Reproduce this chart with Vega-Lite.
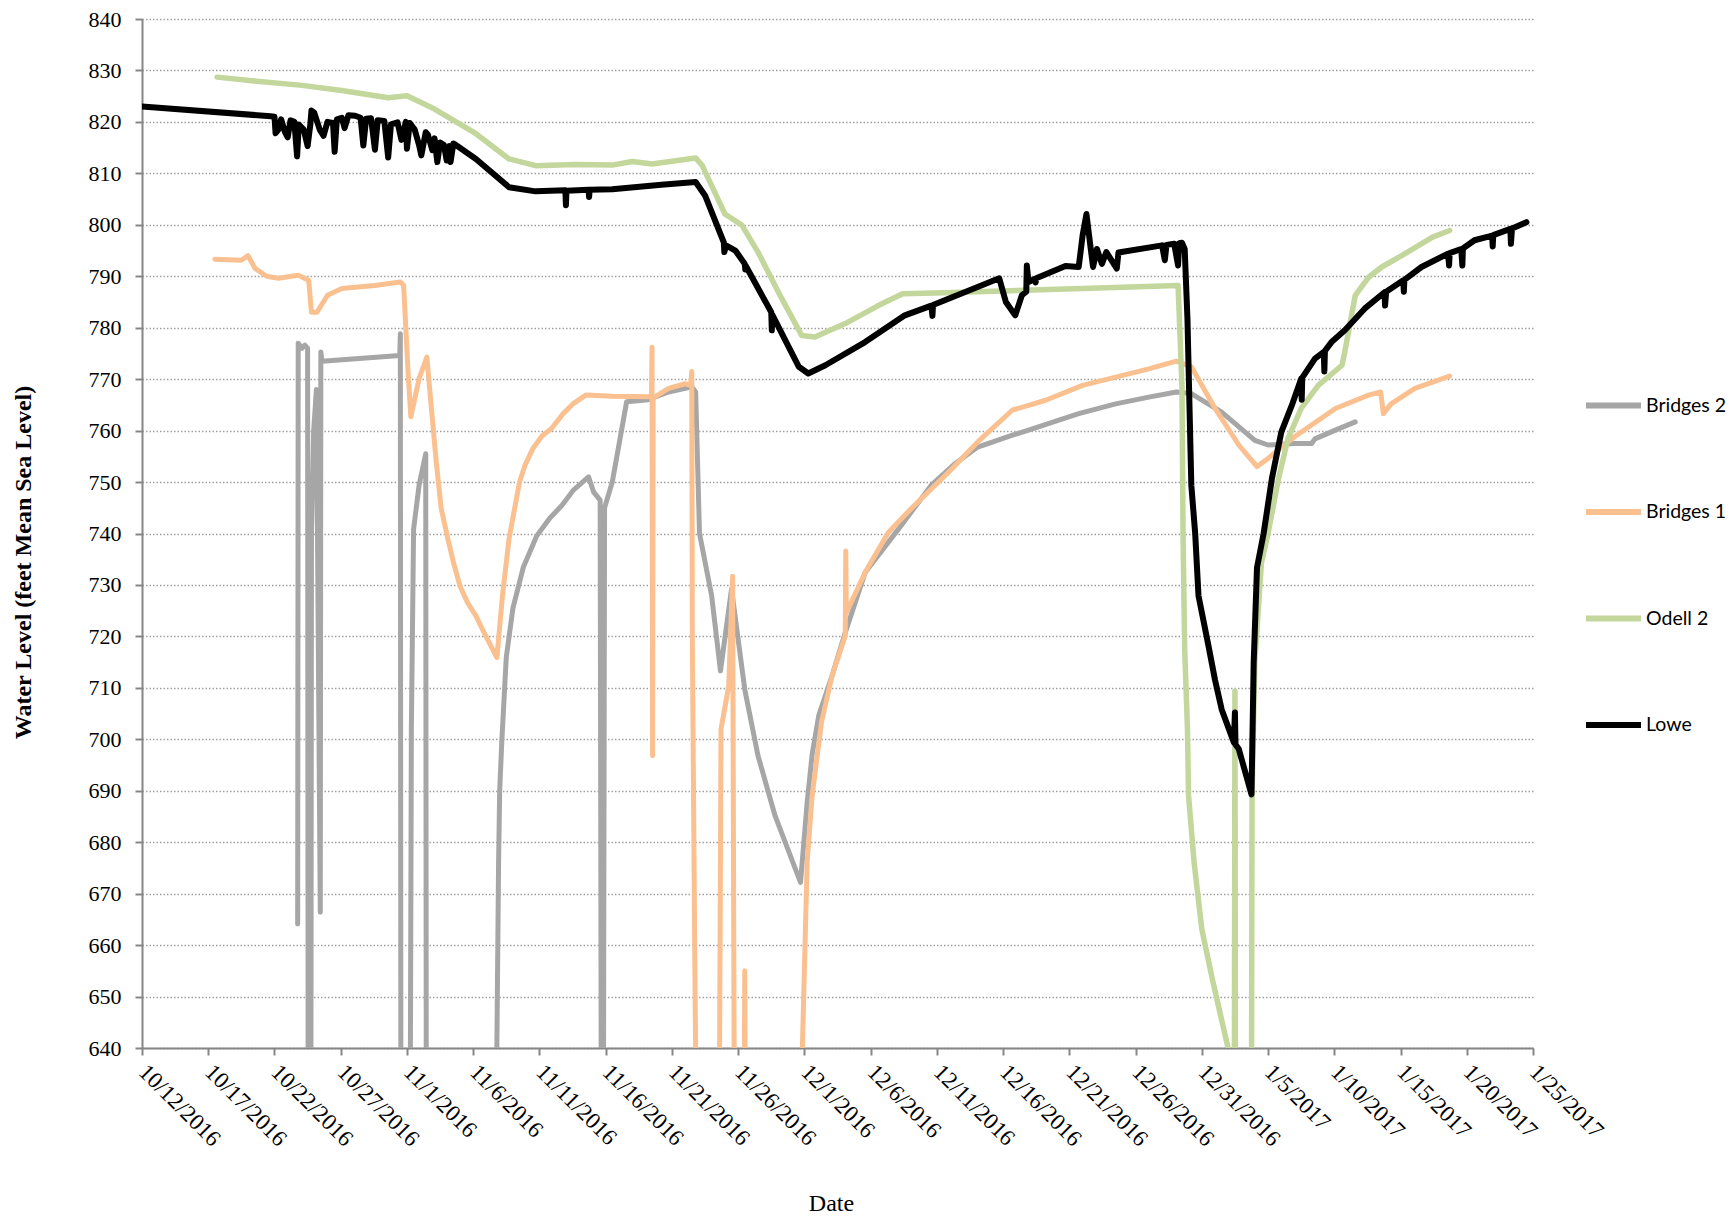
{
  "$schema": "https://vega.github.io/schema/vega-lite/v6.json",
  "autosize": {"type": "none"},
  "padding": {"left": 142, "top": 19, "right": 198, "bottom": 170},
  "width": 1391,
  "height": 1029,
  "background": "white",
  "config": {"view": {"stroke": null}},
  "data": {"values": [
    {"well":"Bridges 2","time":"2016-10-23T18:00","level":664.1},
    {"well":"Bridges 2","time":"2016-10-23T19:00","level":777.0},
    {"well":"Bridges 2","time":"2016-10-24T02:00","level":776.0},
    {"well":"Bridges 2","time":"2016-10-24T07:00","level":776.6},
    {"well":"Bridges 2","time":"2016-10-24T12:00","level":776.0},
    {"well":"Bridges 2","time":"2016-10-24T13:00","level":630},
    {"well":"Bridges 2","time":"2016-10-24T18:00","level":630},
    {"well":"Bridges 2","time":"2016-10-24T19:00","level":740},
    {"well":"Bridges 2","time":"2016-10-24T23:00","level":760},
    {"well":"Bridges 2","time":"2016-10-25T04:00","level":768},
    {"well":"Bridges 2","time":"2016-10-25T11:00","level":666.4},
    {"well":"Bridges 2","time":"2016-10-25T12:00","level":775.3},
    {"well":"Bridges 2","time":"2016-10-25T14:00","level":773.5},
    {"well":"Bridges 2","time":"2016-10-31T11:00","level":774.6},
    {"well":"Bridges 2","time":"2016-10-31T12:00","level":778.8},
    {"well":"Bridges 2","time":"2016-10-31T13:00","level":630},
    {"well":"Bridges 2","time":"2016-11-01T06:00","level":630},
    {"well":"Bridges 2","time":"2016-11-01T08:00","level":702},
    {"well":"Bridges 2","time":"2016-11-01T12:00","level":740.8},
    {"well":"Bridges 2","time":"2016-11-01T22:00","level":749.4},
    {"well":"Bridges 2","time":"2016-11-02T10:00","level":755.5},
    {"well":"Bridges 2","time":"2016-11-02T11:00","level":630},
    {"well":"Bridges 2","time":"2016-11-07T18:00","level":630},
    {"well":"Bridges 2","time":"2016-11-07T22:00","level":676},
    {"well":"Bridges 2","time":"2016-11-08T00:00","level":690},
    {"well":"Bridges 2","time":"2016-11-08T04:00","level":700},
    {"well":"Bridges 2","time":"2016-11-08T12:00","level":716},
    {"well":"Bridges 2","time":"2016-11-09T00:00","level":725.5},
    {"well":"Bridges 2","time":"2016-11-09T19:00","level":733.5},
    {"well":"Bridges 2","time":"2016-11-10T19:00","level":739.5},
    {"well":"Bridges 2","time":"2016-11-11T19:00","level":743.0},
    {"well":"Bridges 2","time":"2016-11-12T17:00","level":745.5},
    {"well":"Bridges 2","time":"2016-11-13T14:00","level":748.5},
    {"well":"Bridges 2","time":"2016-11-14T17:00","level":751.0},
    {"well":"Bridges 2","time":"2016-11-15T02:00","level":748.1},
    {"well":"Bridges 2","time":"2016-11-15T14:00","level":746.5},
    {"well":"Bridges 2","time":"2016-11-15T16:00","level":630},
    {"well":"Bridges 2","time":"2016-11-15T20:00","level":630},
    {"well":"Bridges 2","time":"2016-11-15T22:00","level":745},
    {"well":"Bridges 2","time":"2016-11-16T12:00","level":750},
    {"well":"Bridges 2","time":"2016-11-17T14:00","level":765.6},
    {"well":"Bridges 2","time":"2016-11-19T05:00","level":766.0},
    {"well":"Bridges 2","time":"2016-11-20T18:00","level":767.5},
    {"well":"Bridges 2","time":"2016-11-22T12:00","level":768.5},
    {"well":"Bridges 2","time":"2016-11-22T19:00","level":767.5},
    {"well":"Bridges 2","time":"2016-11-23T02:00","level":740.0},
    {"well":"Bridges 2","time":"2016-11-24T00:00","level":727.9},
    {"well":"Bridges 2","time":"2016-11-24T16:00","level":713.3},
    {"well":"Bridges 2","time":"2016-11-25T12:00","level":729.2},
    {"well":"Bridges 2","time":"2016-11-26T12:00","level":709.7},
    {"well":"Bridges 2","time":"2016-11-27T12:00","level":696.8},
    {"well":"Bridges 2","time":"2016-11-28T19:00","level":685.1},
    {"well":"Bridges 2","time":"2016-11-30T17:00","level":672.2},
    {"well":"Bridges 2","time":"2016-12-01T05:00","level":687.7},
    {"well":"Bridges 2","time":"2016-12-01T14:00","level":697.0},
    {"well":"Bridges 2","time":"2016-12-02T02:00","level":704.6},
    {"well":"Bridges 2","time":"2016-12-03T02:00","level":712.3},
    {"well":"Bridges 2","time":"2016-12-04T02:00","level":720.7},
    {"well":"Bridges 2","time":"2016-12-05T14:00","level":732.4},
    {"well":"Bridges 2","time":"2016-12-08T02:00","level":740.8},
    {"well":"Bridges 2","time":"2016-12-10T14:00","level":749.4},
    {"well":"Bridges 2","time":"2016-12-12T08:00","level":753.5},
    {"well":"Bridges 2","time":"2016-12-14T02:00","level":756.8},
    {"well":"Bridges 2","time":"2016-12-16T17:00","level":759.1},
    {"well":"Bridges 2","time":"2016-12-17T22:00","level":760.1},
    {"well":"Bridges 2","time":"2016-12-21T17:00","level":763.3},
    {"well":"Bridges 2","time":"2016-12-24T12:00","level":765.2},
    {"well":"Bridges 2","time":"2016-12-27T00:00","level":766.5},
    {"well":"Bridges 2","time":"2016-12-29T02:00","level":767.5},
    {"well":"Bridges 2","time":"2016-12-30T05:00","level":767.2},
    {"well":"Bridges 2","time":"2017-01-01T12:00","level":763.6},
    {"well":"Bridges 2","time":"2017-01-04T00:00","level":758.1},
    {"well":"Bridges 2","time":"2017-01-05T00:00","level":757.2},
    {"well":"Bridges 2","time":"2017-01-07T00:00","level":757.5},
    {"well":"Bridges 2","time":"2017-01-08T07:00","level":757.5},
    {"well":"Bridges 2","time":"2017-01-08T13:00","level":758.4},
    {"well":"Bridges 2","time":"2017-01-10T02:00","level":760.1},
    {"well":"Bridges 2","time":"2017-01-11T14:00","level":761.7},

    {"well":"Bridges 1","time":"2016-10-17T12:00","level":793.3},
    {"well":"Bridges 1","time":"2016-10-19T12:00","level":793.1},
    {"well":"Bridges 1","time":"2016-10-20T00:00","level":794.0},
    {"well":"Bridges 1","time":"2016-10-20T13:00","level":791.5},
    {"well":"Bridges 1","time":"2016-10-21T10:00","level":790.0},
    {"well":"Bridges 1","time":"2016-10-22T07:00","level":789.6},
    {"well":"Bridges 1","time":"2016-10-23T19:00","level":790.2},
    {"well":"Bridges 1","time":"2016-10-24T14:00","level":789.2},
    {"well":"Bridges 1","time":"2016-10-24T19:00","level":783.0},
    {"well":"Bridges 1","time":"2016-10-25T05:00","level":783.0},
    {"well":"Bridges 1","time":"2016-10-26T00:00","level":786.3},
    {"well":"Bridges 1","time":"2016-10-27T02:00","level":787.6},
    {"well":"Bridges 1","time":"2016-10-29T14:00","level":788.2},
    {"well":"Bridges 1","time":"2016-10-31T12:00","level":788.9},
    {"well":"Bridges 1","time":"2016-10-31T18:00","level":788.2},
    {"well":"Bridges 1","time":"2016-11-01T02:00","level":771.4},
    {"well":"Bridges 1","time":"2016-11-01T07:00","level":762.7},
    {"well":"Bridges 1","time":"2016-11-01T22:00","level":770.1},
    {"well":"Bridges 1","time":"2016-11-02T12:00","level":774.3},
    {"well":"Bridges 1","time":"2016-11-02T22:00","level":762.3},
    {"well":"Bridges 1","time":"2016-11-03T05:00","level":754.0},
    {"well":"Bridges 1","time":"2016-11-03T14:00","level":744.9},
    {"well":"Bridges 1","time":"2016-11-04T02:00","level":739.0},
    {"well":"Bridges 1","time":"2016-11-04T12:00","level":734.5},
    {"well":"Bridges 1","time":"2016-11-05T00:00","level":729.8},
    {"well":"Bridges 1","time":"2016-11-05T14:00","level":726.5},
    {"well":"Bridges 1","time":"2016-11-06T05:00","level":724.0},
    {"well":"Bridges 1","time":"2016-11-06T17:00","level":721.3},
    {"well":"Bridges 1","time":"2016-11-07T05:00","level":718.8},
    {"well":"Bridges 1","time":"2016-11-07T19:00","level":715.9},
    {"well":"Bridges 1","time":"2016-11-08T05:00","level":727.9},
    {"well":"Bridges 1","time":"2016-11-08T17:00","level":739.0},
    {"well":"Bridges 1","time":"2016-11-09T05:00","level":746.0},
    {"well":"Bridges 1","time":"2016-11-09T12:00","level":750.0},
    {"well":"Bridges 1","time":"2016-11-09T22:00","level":753.3},
    {"well":"Bridges 1","time":"2016-11-10T12:00","level":756.5},
    {"well":"Bridges 1","time":"2016-11-11T05:00","level":759.0},
    {"well":"Bridges 1","time":"2016-11-11T22:00","level":760.4},
    {"well":"Bridges 1","time":"2016-11-12T19:00","level":763.3},
    {"well":"Bridges 1","time":"2016-11-13T14:00","level":765.3},
    {"well":"Bridges 1","time":"2016-11-14T12:00","level":766.9},
    {"well":"Bridges 1","time":"2016-11-16T12:00","level":766.7},
    {"well":"Bridges 1","time":"2016-11-19T11:00","level":766.6},
    {"well":"Bridges 1","time":"2016-11-19T12:00","level":776.2},
    {"well":"Bridges 1","time":"2016-11-19T13:00","level":696.8},
    {"well":"Bridges 1","time":"2016-11-19T14:00","level":766.5},
    {"well":"Bridges 1","time":"2016-11-19T18:00","level":766.6},
    {"well":"Bridges 1","time":"2016-11-20T18:00","level":768.2},
    {"well":"Bridges 1","time":"2016-11-22T00:00","level":769.1},
    {"well":"Bridges 1","time":"2016-11-22T10:00","level":768.8},
    {"well":"Bridges 1","time":"2016-11-22T12:00","level":771.5},
    {"well":"Bridges 1","time":"2016-11-22T13:00","level":720},
    {"well":"Bridges 1","time":"2016-11-22T18:00","level":650},
    {"well":"Bridges 1","time":"2016-11-22T20:00","level":630},
    {"well":"Bridges 1","time":"2016-11-24T14:00","level":630},
    {"well":"Bridges 1","time":"2016-11-24T17:00","level":702},
    {"well":"Bridges 1","time":"2016-11-25T07:00","level":710.4},
    {"well":"Bridges 1","time":"2016-11-25T14:00","level":731.7},
    {"well":"Bridges 1","time":"2016-11-25T17:00","level":630},
    {"well":"Bridges 1","time":"2016-11-26T11:00","level":630},
    {"well":"Bridges 1","time":"2016-11-26T12:00","level":655.0},
    {"well":"Bridges 1","time":"2016-11-26T13:00","level":630},
    {"well":"Bridges 1","time":"2016-11-30T18:00","level":630},
    {"well":"Bridges 1","time":"2016-12-01T05:00","level":676.1},
    {"well":"Bridges 1","time":"2016-12-01T14:00","level":689.0},
    {"well":"Bridges 1","time":"2016-12-02T07:00","level":703.3},
    {"well":"Bridges 1","time":"2016-12-03T02:00","level":712.3},
    {"well":"Bridges 1","time":"2016-12-04T02:00","level":720.1},
    {"well":"Bridges 1","time":"2016-12-04T03:00","level":736.6},
    {"well":"Bridges 1","time":"2016-12-04T04:00","level":724.6},
    {"well":"Bridges 1","time":"2016-12-05T14:00","level":732.4},
    {"well":"Bridges 1","time":"2016-12-07T08:00","level":740.2},
    {"well":"Bridges 1","time":"2016-12-09T02:00","level":744.9},
    {"well":"Bridges 1","time":"2016-12-11T22:00","level":752.0},
    {"well":"Bridges 1","time":"2016-12-14T02:00","level":757.8},
    {"well":"Bridges 1","time":"2016-12-16T17:00","level":764.0},
    {"well":"Bridges 1","time":"2016-12-17T22:00","level":764.9},
    {"well":"Bridges 1","time":"2016-12-19T05:00","level":765.9},
    {"well":"Bridges 1","time":"2016-12-22T00:00","level":768.8},
    {"well":"Bridges 1","time":"2016-12-24T12:00","level":770.4},
    {"well":"Bridges 1","time":"2016-12-27T00:00","level":772.0},
    {"well":"Bridges 1","time":"2016-12-29T02:00","level":773.5},
    {"well":"Bridges 1","time":"2016-12-30T05:00","level":772.4},
    {"well":"Bridges 1","time":"2017-01-01T00:00","level":764.3},
    {"well":"Bridges 1","time":"2017-01-02T19:00","level":757.2},
    {"well":"Bridges 1","time":"2017-01-04T04:00","level":753.0},
    {"well":"Bridges 1","time":"2017-01-05T00:00","level":754.6},
    {"well":"Bridges 1","time":"2017-01-07T00:00","level":758.8},
    {"well":"Bridges 1","time":"2017-01-10T02:00","level":764.3},
    {"well":"Bridges 1","time":"2017-01-12T14:00","level":766.9},
    {"well":"Bridges 1","time":"2017-01-13T12:00","level":767.5},
    {"well":"Bridges 1","time":"2017-01-13T17:00","level":763.3},
    {"well":"Bridges 1","time":"2017-01-14T07:00","level":765.2},
    {"well":"Bridges 1","time":"2017-01-16T02:00","level":768.2},
    {"well":"Bridges 1","time":"2017-01-18T17:00","level":770.6},

    {"well":"Odell 2","time":"2016-10-17T16:00","level":828.7},
    {"well":"Odell 2","time":"2016-10-20T07:00","level":828.0},
    {"well":"Odell 2","time":"2016-10-24T02:00","level":827.1},
    {"well":"Odell 2","time":"2016-10-27T02:00","level":826.1},
    {"well":"Odell 2","time":"2016-10-30T14:00","level":824.7},
    {"well":"Odell 2","time":"2016-11-01T00:00","level":825.1},
    {"well":"Odell 2","time":"2016-11-03T02:00","level":822.5},
    {"well":"Odell 2","time":"2016-11-06T05:00","level":817.7},
    {"well":"Odell 2","time":"2016-11-08T17:00","level":812.8},
    {"well":"Odell 2","time":"2016-11-10T17:00","level":811.5},
    {"well":"Odell 2","time":"2016-11-13T17:00","level":811.7},
    {"well":"Odell 2","time":"2016-11-16T12:00","level":811.6},
    {"well":"Odell 2","time":"2016-11-18T00:00","level":812.3},
    {"well":"Odell 2","time":"2016-11-19T12:00","level":811.8},
    {"well":"Odell 2","time":"2016-11-22T19:00","level":813.0},
    {"well":"Odell 2","time":"2016-11-23T07:00","level":811.5},
    {"well":"Odell 2","time":"2016-11-25T00:00","level":802.1},
    {"well":"Odell 2","time":"2016-11-26T07:00","level":799.9},
    {"well":"Odell 2","time":"2016-11-27T12:00","level":794.7},
    {"well":"Odell 2","time":"2016-11-29T01:00","level":786.9},
    {"well":"Odell 2","time":"2016-11-30T19:00","level":778.5},
    {"well":"Odell 2","time":"2016-12-01T19:00","level":778.2},
    {"well":"Odell 2","time":"2016-12-04T02:00","level":780.8},
    {"well":"Odell 2","time":"2016-12-06T14:00","level":784.3},
    {"well":"Odell 2","time":"2016-12-08T10:00","level":786.6},
    {"well":"Odell 2","time":"2016-12-11T14:00","level":786.8},
    {"well":"Odell 2","time":"2016-12-22T00:00","level":787.6},
    {"well":"Odell 2","time":"2016-12-29T05:00","level":788.2},
    {"well":"Odell 2","time":"2016-12-29T12:00","level":768.8},
    {"well":"Odell 2","time":"2016-12-29T14:00","level":740.0},
    {"well":"Odell 2","time":"2016-12-29T17:00","level":717.5},
    {"well":"Odell 2","time":"2016-12-29T22:00","level":702.0},
    {"well":"Odell 2","time":"2016-12-30T00:00","level":689.0},
    {"well":"Odell 2","time":"2016-12-30T10:00","level":676.1},
    {"well":"Odell 2","time":"2016-12-31T00:00","level":663.1},
    {"well":"Odell 2","time":"2016-12-31T19:00","level":653.4},
    {"well":"Odell 2","time":"2017-01-02T00:00","level":639.8},
    {"well":"Odell 2","time":"2017-01-02T07:00","level":630},
    {"well":"Odell 2","time":"2017-01-02T11:00","level":630},
    {"well":"Odell 2","time":"2017-01-02T12:00","level":709.4},
    {"well":"Odell 2","time":"2017-01-02T13:00","level":630},
    {"well":"Odell 2","time":"2017-01-03T18:00","level":630},
    {"well":"Odell 2","time":"2017-01-03T19:00","level":689.0},
    {"well":"Odell 2","time":"2017-01-04T00:00","level":715.0},
    {"well":"Odell 2","time":"2017-01-04T12:00","level":734.3},
    {"well":"Odell 2","time":"2017-01-05T00:00","level":740.0},
    {"well":"Odell 2","time":"2017-01-05T19:00","level":750.7},
    {"well":"Odell 2","time":"2017-01-06T12:00","level":758.4},
    {"well":"Odell 2","time":"2017-01-07T12:00","level":764.3},
    {"well":"Odell 2","time":"2017-01-08T19:00","level":768.8},
    {"well":"Odell 2","time":"2017-01-10T14:00","level":772.7},
    {"well":"Odell 2","time":"2017-01-10T19:00","level":775.3},
    {"well":"Odell 2","time":"2017-01-11T14:00","level":786.3},
    {"well":"Odell 2","time":"2017-01-12T14:00","level":789.8},
    {"well":"Odell 2","time":"2017-01-13T14:00","level":791.8},
    {"well":"Odell 2","time":"2017-01-15T02:00","level":794.0},
    {"well":"Odell 2","time":"2017-01-17T10:00","level":797.6},
    {"well":"Odell 2","time":"2017-01-18T17:00","level":798.9},

    {"well":"Lowe","time":"2016-10-12T00:00","level":823.0},
    {"well":"Lowe","time":"2016-10-21T17:00","level":821.1},
    {"well":"Lowe","time":"2016-10-22T00:00","level":821.0},
    {"well":"Lowe","time":"2016-10-22T02:00","level":817.8},
    {"well":"Lowe","time":"2016-10-22T07:00","level":818.5},
    {"well":"Lowe","time":"2016-10-22T12:00","level":820.5},
    {"well":"Lowe","time":"2016-10-22T19:00","level":818.0},
    {"well":"Lowe","time":"2016-10-23T00:00","level":817.0},
    {"well":"Lowe","time":"2016-10-23T05:00","level":820.3},
    {"well":"Lowe","time":"2016-10-23T12:00","level":820.0},
    {"well":"Lowe","time":"2016-10-23T17:00","level":813.3},
    {"well":"Lowe","time":"2016-10-23T20:00","level":819.5},
    {"well":"Lowe","time":"2016-10-24T05:00","level":818.5},
    {"well":"Lowe","time":"2016-10-24T12:00","level":815.3},
    {"well":"Lowe","time":"2016-10-24T17:00","level":819.5},
    {"well":"Lowe","time":"2016-10-24T19:00","level":822.2},
    {"well":"Lowe","time":"2016-10-25T00:00","level":821.8},
    {"well":"Lowe","time":"2016-10-25T10:00","level":818.5},
    {"well":"Lowe","time":"2016-10-25T17:00","level":817.3},
    {"well":"Lowe","time":"2016-10-26T00:00","level":820.0},
    {"well":"Lowe","time":"2016-10-26T10:00","level":819.8},
    {"well":"Lowe","time":"2016-10-26T13:00","level":814.2},
    {"well":"Lowe","time":"2016-10-26T17:00","level":820.5},
    {"well":"Lowe","time":"2016-10-27T02:00","level":820.8},
    {"well":"Lowe","time":"2016-10-27T07:00","level":818.8},
    {"well":"Lowe","time":"2016-10-27T14:00","level":821.3},
    {"well":"Lowe","time":"2016-10-28T02:00","level":821.2},
    {"well":"Lowe","time":"2016-10-28T12:00","level":820.8},
    {"well":"Lowe","time":"2016-10-28T17:00","level":815.4},
    {"well":"Lowe","time":"2016-10-28T22:00","level":820.6},
    {"well":"Lowe","time":"2016-10-29T07:00","level":820.7},
    {"well":"Lowe","time":"2016-10-29T14:00","level":814.6},
    {"well":"Lowe","time":"2016-10-29T19:00","level":820.3},
    {"well":"Lowe","time":"2016-10-30T07:00","level":820.2},
    {"well":"Lowe","time":"2016-10-30T14:00","level":813.1},
    {"well":"Lowe","time":"2016-10-30T19:00","level":819.5},
    {"well":"Lowe","time":"2016-10-31T07:00","level":819.9},
    {"well":"Lowe","time":"2016-10-31T14:00","level":816.5},
    {"well":"Lowe","time":"2016-10-31T22:00","level":820.0},
    {"well":"Lowe","time":"2016-11-01T00:00","level":814.8},
    {"well":"Lowe","time":"2016-11-01T05:00","level":819.8},
    {"well":"Lowe","time":"2016-11-01T14:00","level":818.5},
    {"well":"Lowe","time":"2016-11-01T22:00","level":815.5},
    {"well":"Lowe","time":"2016-11-02T02:00","level":813.5},
    {"well":"Lowe","time":"2016-11-02T10:00","level":818.0},
    {"well":"Lowe","time":"2016-11-02T14:00","level":817.5},
    {"well":"Lowe","time":"2016-11-02T22:00","level":814.5},
    {"well":"Lowe","time":"2016-11-03T02:00","level":816.8},
    {"well":"Lowe","time":"2016-11-03T07:00","level":812.2},
    {"well":"Lowe","time":"2016-11-03T12:00","level":816.0},
    {"well":"Lowe","time":"2016-11-03T19:00","level":815.5},
    {"well":"Lowe","time":"2016-11-04T00:00","level":812.5},
    {"well":"Lowe","time":"2016-11-04T05:00","level":815.3},
    {"well":"Lowe","time":"2016-11-04T07:00","level":812.2},
    {"well":"Lowe","time":"2016-11-04T12:00","level":815.8},
    {"well":"Lowe","time":"2016-11-04T14:00","level":815.7},
    {"well":"Lowe","time":"2016-11-06T05:00","level":812.8},
    {"well":"Lowe","time":"2016-11-08T17:00","level":807.3},
    {"well":"Lowe","time":"2016-11-10T17:00","level":806.5},
    {"well":"Lowe","time":"2016-11-12T23:00","level":806.7},
    {"well":"Lowe","time":"2016-11-13T00:00","level":803.8},
    {"well":"Lowe","time":"2016-11-13T01:00","level":806.6},
    {"well":"Lowe","time":"2016-11-14T17:00","level":806.8},
    {"well":"Lowe","time":"2016-11-14T18:00","level":805.4},
    {"well":"Lowe","time":"2016-11-14T19:00","level":806.8},
    {"well":"Lowe","time":"2016-11-16T12:00","level":806.9},
    {"well":"Lowe","time":"2016-11-20T05:00","level":807.8},
    {"well":"Lowe","time":"2016-11-22T19:00","level":808.3},
    {"well":"Lowe","time":"2016-11-23T12:00","level":805.7},
    {"well":"Lowe","time":"2016-11-24T22:00","level":796.6},
    {"well":"Lowe","time":"2016-11-24T23:00","level":794.7},
    {"well":"Lowe","time":"2016-11-25T02:00","level":796.0},
    {"well":"Lowe","time":"2016-11-25T19:00","level":795.0},
    {"well":"Lowe","time":"2016-11-26T12:00","level":792.4},
    {"well":"Lowe","time":"2016-11-26T13:00","level":791.3},
    {"well":"Lowe","time":"2016-11-26T14:00","level":792.0},
    {"well":"Lowe","time":"2016-11-28T12:00","level":783.0},
    {"well":"Lowe","time":"2016-11-28T13:00","level":779.5},
    {"well":"Lowe","time":"2016-11-28T14:00","level":782.5},
    {"well":"Lowe","time":"2016-11-30T14:00","level":772.4},
    {"well":"Lowe","time":"2016-12-01T07:00","level":771.1},
    {"well":"Lowe","time":"2016-12-02T14:00","level":772.7},
    {"well":"Lowe","time":"2016-12-05T14:00","level":777.2},
    {"well":"Lowe","time":"2016-12-08T14:00","level":782.4},
    {"well":"Lowe","time":"2016-12-10T14:00","level":784.3},
    {"well":"Lowe","time":"2016-12-10T16:00","level":782.3},
    {"well":"Lowe","time":"2016-12-10T17:00","level":784.4},
    {"well":"Lowe","time":"2016-12-15T17:00","level":789.6},
    {"well":"Lowe","time":"2016-12-16T05:00","level":785.0},
    {"well":"Lowe","time":"2016-12-16T22:00","level":782.4},
    {"well":"Lowe","time":"2016-12-17T10:00","level":786.3},
    {"well":"Lowe","time":"2016-12-17T18:00","level":787.0},
    {"well":"Lowe","time":"2016-12-17T19:00","level":792.1},
    {"well":"Lowe","time":"2016-12-17T22:00","level":788.9},
    {"well":"Lowe","time":"2016-12-18T10:00","level":789.5},
    {"well":"Lowe","time":"2016-12-18T11:00","level":788.8},
    {"well":"Lowe","time":"2016-12-18T12:00","level":789.6},
    {"well":"Lowe","time":"2016-12-20T17:00","level":792.0},
    {"well":"Lowe","time":"2016-12-21T17:00","level":791.8},
    {"well":"Lowe","time":"2016-12-22T00:00","level":797.9},
    {"well":"Lowe","time":"2016-12-22T07:00","level":802.1},
    {"well":"Lowe","time":"2016-12-22T14:00","level":796.0},
    {"well":"Lowe","time":"2016-12-22T19:00","level":791.8},
    {"well":"Lowe","time":"2016-12-23T02:00","level":795.3},
    {"well":"Lowe","time":"2016-12-23T11:00","level":792.4},
    {"well":"Lowe","time":"2016-12-23T19:00","level":794.7},
    {"well":"Lowe","time":"2016-12-24T14:00","level":791.5},
    {"well":"Lowe","time":"2016-12-24T17:00","level":794.6},
    {"well":"Lowe","time":"2016-12-28T00:00","level":796.0},
    {"well":"Lowe","time":"2016-12-28T05:00","level":793.1},
    {"well":"Lowe","time":"2016-12-28T08:00","level":796.1},
    {"well":"Lowe","time":"2016-12-28T22:00","level":796.3},
    {"well":"Lowe","time":"2016-12-29T05:00","level":792.1},
    {"well":"Lowe","time":"2016-12-29T07:00","level":796.4},
    {"well":"Lowe","time":"2016-12-29T12:00","level":796.5},
    {"well":"Lowe","time":"2016-12-29T17:00","level":795.3},
    {"well":"Lowe","time":"2016-12-29T22:00","level":781.7},
    {"well":"Lowe","time":"2016-12-30T05:00","level":749.4},
    {"well":"Lowe","time":"2016-12-30T12:00","level":740.0},
    {"well":"Lowe","time":"2016-12-30T18:00","level":727.9},
    {"well":"Lowe","time":"2016-12-31T12:00","level":718.2},
    {"well":"Lowe","time":"2017-01-01T00:00","level":711.5},
    {"well":"Lowe","time":"2017-01-01T12:00","level":705.8},
    {"well":"Lowe","time":"2017-01-02T10:00","level":699.4},
    {"well":"Lowe","time":"2017-01-02T12:00","level":705.2},
    {"well":"Lowe","time":"2017-01-02T13:00","level":699.0},
    {"well":"Lowe","time":"2017-01-02T19:00","level":698.1},
    {"well":"Lowe","time":"2017-01-03T18:00","level":689.3},
    {"well":"Lowe","time":"2017-01-03T22:00","level":715.0},
    {"well":"Lowe","time":"2017-01-04T04:00","level":733.4},
    {"well":"Lowe","time":"2017-01-04T16:00","level":740.0},
    {"well":"Lowe","time":"2017-01-05T07:00","level":750.7},
    {"well":"Lowe","time":"2017-01-06T00:00","level":759.7},
    {"well":"Lowe","time":"2017-01-06T19:00","level":764.9},
    {"well":"Lowe","time":"2017-01-07T12:00","level":770.1},
    {"well":"Lowe","time":"2017-01-07T13:00","level":766.0},
    {"well":"Lowe","time":"2017-01-07T14:00","level":770.3},
    {"well":"Lowe","time":"2017-01-08T13:00","level":774.0},
    {"well":"Lowe","time":"2017-01-09T05:00","level":775.3},
    {"well":"Lowe","time":"2017-01-09T06:00","level":771.5},
    {"well":"Lowe","time":"2017-01-09T07:00","level":775.5},
    {"well":"Lowe","time":"2017-01-09T19:00","level":777.2},
    {"well":"Lowe","time":"2017-01-10T19:00","level":779.5},
    {"well":"Lowe","time":"2017-01-12T07:00","level":783.7},
    {"well":"Lowe","time":"2017-01-13T19:00","level":786.9},
    {"well":"Lowe","time":"2017-01-13T20:00","level":784.3},
    {"well":"Lowe","time":"2017-01-13T22:00","level":787.0},
    {"well":"Lowe","time":"2017-01-15T05:00","level":789.2},
    {"well":"Lowe","time":"2017-01-15T06:00","level":787.0},
    {"well":"Lowe","time":"2017-01-15T07:00","level":789.3},
    {"well":"Lowe","time":"2017-01-16T14:00","level":791.8},
    {"well":"Lowe","time":"2017-01-18T14:00","level":794.4},
    {"well":"Lowe","time":"2017-01-18T16:00","level":792.1},
    {"well":"Lowe","time":"2017-01-18T17:00","level":794.5},
    {"well":"Lowe","time":"2017-01-19T14:00","level":795.3},
    {"well":"Lowe","time":"2017-01-19T16:00","level":792.1},
    {"well":"Lowe","time":"2017-01-19T17:00","level":795.4},
    {"well":"Lowe","time":"2017-01-20T14:00","level":797.0},
    {"well":"Lowe","time":"2017-01-21T22:00","level":797.9},
    {"well":"Lowe","time":"2017-01-21T23:00","level":795.8},
    {"well":"Lowe","time":"2017-01-22T00:00","level":798.0},
    {"well":"Lowe","time":"2017-01-23T07:00","level":799.2},
    {"well":"Lowe","time":"2017-01-23T08:00","level":796.3},
    {"well":"Lowe","time":"2017-01-23T10:00","level":799.3},
    {"well":"Lowe","time":"2017-01-24T12:00","level":800.5}
  ]},
  "encoding": {
    "x": {
      "field": "time", "type": "temporal",
      "scale": {"domain": [{"year":2016,"month":10,"date":12},{"year":2017,"month":1,"date":25}], "nice": false},
      "axis": {
        "title": "Date",
        "values": [
          {"year":2016,"month":10,"date":12},{"year":2016,"month":10,"date":17},{"year":2016,"month":10,"date":22},{"year":2016,"month":10,"date":27},
          {"year":2016,"month":11,"date":1},{"year":2016,"month":11,"date":6},{"year":2016,"month":11,"date":11},{"year":2016,"month":11,"date":16},
          {"year":2016,"month":11,"date":21},{"year":2016,"month":11,"date":26},{"year":2016,"month":12,"date":1},{"year":2016,"month":12,"date":6},
          {"year":2016,"month":12,"date":11},{"year":2016,"month":12,"date":16},{"year":2016,"month":12,"date":21},{"year":2016,"month":12,"date":26},
          {"year":2016,"month":12,"date":31},{"year":2017,"month":1,"date":5},{"year":2017,"month":1,"date":10},{"year":2017,"month":1,"date":15},
          {"year":2017,"month":1,"date":20},{"year":2017,"month":1,"date":25}
        ],
        "format": "%-m/%-d/%Y",
        "labelAngle": 45, "labelAlign": "left", "labelBaseline": "middle",
        "labelPadding": 13, "labelFont": "Liberation Serif", "labelFontSize": 23, "labelColor": "black",
        "labelOverlap": false, "labelFlush": false, "labelBound": false,
        "tickSize": 7, "tickColor": "#868686", "tickWidth": 2,
        "domainColor": "#868686", "domainWidth": 2,
        "grid": false,
        "titleFont": "Liberation Serif", "titleFontSize": 24, "titleFontWeight": "normal", "titleColor": "black",
        "titleX": 689, "titleY": 155, "titleBaseline": "middle", "titleAnchor": null, "titleAlign": "center"
      }
    },
    "y": {
      "field": "level", "type": "quantitative",
      "scale": {"domain": [640, 840], "nice": false, "zero": false},
      "axis": {
        "title": "Water Level (feet Mean Sea Level)",
        "values": [640,650,660,670,680,690,700,710,720,730,740,750,760,770,780,790,800,810,820,830,840],
        "labelFont": "Liberation Serif", "labelFontSize": 22, "labelColor": "black", "labelPadding": 14,
        "tickSize": 7, "tickColor": "#868686", "tickWidth": 2,
        "domainColor": "#868686", "domainWidth": 2,
        "grid": true, "gridColor": "#a0a0a0", "gridDash": [1.5, 2], "gridWidth": 1.5,
        "titleFont": "Liberation Serif", "titleFontSize": 24, "titleFontWeight": "bold", "titleColor": "black",
        "titleX": -119, "titleY": 543, "titleBaseline": "middle", "titleAlign": "center", "titleAngle": -90
      }
    },
    "color": {
      "field": "well", "type": "nominal",
      "scale": {"domain": ["Bridges 2", "Bridges 1", "Odell 2", "Lowe"], "range": ["#a6a6a6", "#fac090", "#c3d69b", "#000000"]},
      "legend": {
        "title": null, "orient": "none", "legendX": 1441, "legendY": 356, "direction": "vertical",
        "symbolType": "stroke", "symbolSize": 3025, "symbolStrokeWidth": 6,
        "labelFont": "Lato", "labelFontSize": 19.5, "labelColor": "black", "labelOffset": 2,
        "rowPadding": 63.5, "labelLimit": 300
      }
    }
  },
  "layer": [
    {"transform": [{"filter": {"field": "well", "equal": "Bridges 2"}}],
     "mark": {"type": "line", "strokeWidth": 5, "clip": true, "strokeCap": "round", "strokeJoin": "round"}},
    {"transform": [{"filter": {"field": "well", "equal": "Bridges 1"}}],
     "mark": {"type": "line", "strokeWidth": 5, "clip": true, "strokeCap": "round", "strokeJoin": "round"}},
    {"transform": [{"filter": {"field": "well", "equal": "Odell 2"}}],
     "mark": {"type": "line", "strokeWidth": 5.5, "clip": true, "strokeCap": "round", "strokeJoin": "round"}},
    {"transform": [{"filter": {"field": "well", "equal": "Lowe"}}],
     "mark": {"type": "line", "strokeWidth": 6, "clip": true, "strokeCap": "round", "strokeJoin": "round"}}
  ]
}
